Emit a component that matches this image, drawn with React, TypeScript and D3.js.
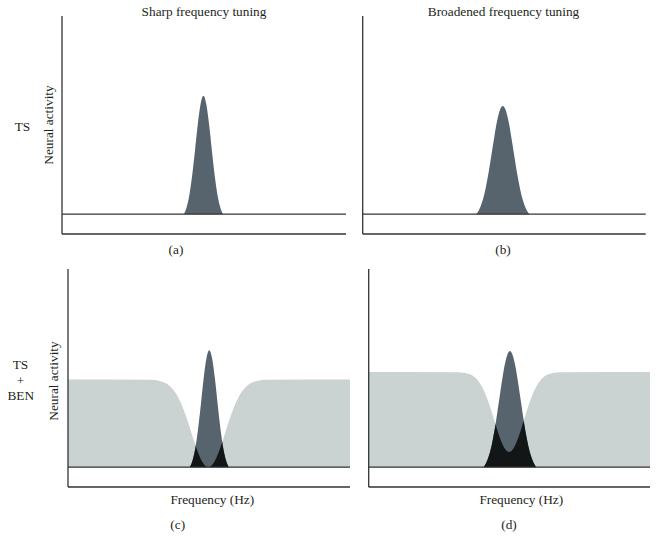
import React from "react";
import * as d3 from "d3";

// ---------- data (frequency 0-100, neural activity 0-100) ----------
const panelLetters = ["(a)", "(b)", "(c)", "(d)"];
const columnTitles = ["Sharp frequency tuning", "Broadened frequency tuning"];
const rowLabels = [["TS"], ["TS", "+", "BEN"]];
const yAxisLabel = "Neural activity";
const xAxisLabel = "Frequency (Hz)";

// (a) sharp tuning peak
const peakAFreq = [42.9, 43.8, 44.8, 45.8, 46.8, 47.8, 48.8, 49.8, 50.8, 51.8, 52.8, 53.8, 54.8, 55.8, 56.7];
const peakAAct = [0, 3.1, 9.3, 19.1, 31.8, 45.2, 55.6, 59.8, 55.6, 45.2, 31.8, 19.1, 9.3, 3.1, 0];

// (b) broadened tuning peak
const peakBFreq = [40.1, 40.5, 41.5, 42.5, 43.5, 44.5, 45.5, 46.5, 47.5, 48.5, 49.5, 50.5, 51.5, 52.5, 53.5, 54.5, 55.5, 56.5, 57.5, 58.5, 58.9];
const peakBAct = [0, 0.7, 3.4, 7.5, 13.5, 21.1, 30.0, 39.0, 47.1, 52.6, 54.6, 52.6, 47.1, 39.0, 30.0, 21.1, 13.5, 7.5, 3.4, 0.7, 0];

// (c) sharp peak + band-eliminated noise
const peakCFreq = [43.2, 44.1, 45.1, 46.1, 47.1, 48.1, 49.1, 50.1, 51.1, 52.1, 53.1, 54.1, 55.1, 56.1, 57.0];
const peakCAct = [0, 3.1, 9.2, 18.9, 31.4, 44.7, 55.0, 59.0, 55.0, 44.7, 31.4, 18.9, 9.2, 3.1, 0];
const noiseCFreq = [0, 29.75, 31.75, 33.75, 34.75, 35.75, 36.75, 37.75, 38.75, 39.75, 40.75, 41.75, 42.75, 43.75, 44.75, 45.75, 46.75, 47.75, 48.75, 49.75, 50.75, 51.75, 52.75, 53.75, 54.75, 55.75, 56.75, 57.75, 58.75, 59.75, 60.75, 61.75, 62.75, 63.75, 64.75, 65.75, 67.75, 69.75, 100];
const noiseCAct = [44.3, 44.1, 43.8, 43.0, 42.3, 41.4, 40.0, 38.3, 36.1, 33.3, 29.9, 26.1, 21.9, 17.4, 13.0, 8.8, 5.2, 2.4, 0.6, 0, 0.6, 2.4, 5.2, 8.8, 13.0, 17.4, 21.9, 26.1, 29.9, 33.3, 36.1, 38.3, 40.0, 41.4, 42.3, 43.0, 43.8, 44.1, 44.3];

// (d) broad peak + band-eliminated noise
const peakDFreq = [40.8, 41.2, 42.2, 43.2, 44.2, 45.2, 46.2, 47.2, 48.2, 49.2, 50.2, 51.2, 52.2, 53.2, 54.2, 55.2, 56.2, 57.2, 58.2, 59.2, 59.6];
const peakDAct = [0, 0.75, 3.6, 8.0, 14.5, 22.6, 32.2, 41.8, 50.5, 56.4, 58.6, 56.4, 50.5, 41.8, 32.2, 22.6, 14.5, 8.0, 3.6, 0.75, 0];
const noiseDFreq = [0, 31.9, 33.9, 34.9, 35.9, 36.9, 37.9, 38.9, 39.9, 40.9, 41.9, 42.9, 43.9, 44.9, 45.9, 46.9, 47.9, 48.9, 49.9, 50.9, 51.9, 52.9, 53.9, 54.9, 55.9, 56.9, 57.9, 58.9, 59.9, 60.9, 61.9, 62.9, 63.9, 64.9, 65.9, 67.9, 100];
const noiseDAct = [48.0, 47.9, 47.6, 47.3, 46.9, 46.2, 45.1, 43.6, 41.5, 38.8, 35.4, 31.5, 27.1, 22.5, 17.9, 13.8, 10.5, 8.4, 7.7, 8.4, 10.5, 13.8, 17.9, 22.5, 27.1, 31.5, 35.4, 38.8, 41.5, 43.6, 45.1, 46.2, 46.9, 47.3, 47.6, 47.9, 48.0];

// ---------- layout ----------
const W = 660;
const H = 553;
const panelBoxes = [
  { x0: 62, x1: 346, top: 16, bottom: 234 },
  { x0: 362.7, x1: 645.7, top: 16, bottom: 234 },
  { x0: 68, x1: 350, top: 269, bottom: 487 },
  { x0: 368.7, x1: 650, top: 269, bottom: 487 },
];

const COL_BAND = "#cad3d2";
const COL_PEAK = "#57646e";
const COL_OVERLAP = "#121617";
const COL_LINE = "#333333";
const COL_TEXT = "#231f20";
const FONT = "'Liberation Serif', 'Times New Roman', serif";

const zip = (xs: number[], ys: number[]) => xs.map((x, i) => [x, ys[i]] as [number, number]);

const panels = [
  { peak: zip(peakAFreq, peakAAct), noise: null as null | [number, number][] },
  { peak: zip(peakBFreq, peakBAct), noise: null as null | [number, number][] },
  { peak: zip(peakCFreq, peakCAct), noise: zip(noiseCFreq, noiseCAct) },
  { peak: zip(peakDFreq, peakDAct), noise: zip(noiseDFreq, noiseDAct) },
];

function Panel({ idx }: { idx: number }) {
  const box = panelBoxes[idx];
  const p = panels[idx];
  const x = d3.scaleLinear().domain([0, 100]).range([box.x0, box.x1]);
  const y = d3.scaleLinear().domain([-10, 100]).range([box.bottom, box.top]);
  const area = d3
    .area<[number, number]>()
    .x((d) => x(d[0]))
    .y0(y(0))
    .y1((d) => y(d[1]))
    .curve(d3.curveMonotoneX);
  const peakPath = area(p.peak) || "";
  const noisePath = p.noise ? area(p.noise) || "" : "";
  const clipId = `noise-clip-${idx}`;
  return (
    <g>
      {p.noise && (
        <defs>
          <clipPath id={clipId}>
            <path d={noisePath} />
          </clipPath>
        </defs>
      )}
      {p.noise && <path d={noisePath} fill={COL_BAND} />}
      <path d={peakPath} fill={COL_PEAK} />
      {p.noise && <path d={peakPath} fill={COL_OVERLAP} clipPath={`url(#${clipId})`} />}
      {/* baseline */}
      <line x1={x(0)} x2={x(100)} y1={y(0)} y2={y(0)} stroke={COL_LINE} strokeWidth={1.3} />
      {/* axes */}
      <line x1={x(0)} x2={x(100)} y1={y(-10)} y2={y(-10)} stroke={COL_LINE} strokeWidth={1.3} />
      <line x1={x(0)} x2={x(0)} y1={y(100)} y2={y(-10)} stroke={COL_LINE} strokeWidth={1.3} />
    </g>
  );
}

export default function App() {
  const txt = { fontFamily: FONT, fontSize: 13.3, fill: COL_TEXT } as const;
  return (
    <svg
      width={W}
      height={H}
      viewBox={`0 0 ${W} ${H}`}
      style={{ position: "absolute", left: 0, top: 0, background: "#fff" }}
    >
      <rect width={W} height={H} fill="#fff" />
      {[0, 1, 2, 3].map((i) => (
        <Panel key={i} idx={i} />
      ))}
      {/* column titles */}
      <text x={204} y={15.5} textAnchor="middle" {...txt}>{columnTitles[0]}</text>
      <text x={503.5} y={15.5} textAnchor="middle" {...txt}>{columnTitles[1]}</text>
      {/* y-axis labels */}
      <text transform="translate(52.5,125) rotate(-90)" textAnchor="middle" {...txt}>{yAxisLabel}</text>
      <text transform="translate(57.5,381) rotate(-90)" textAnchor="middle" {...txt}>{yAxisLabel}</text>
      {/* row labels */}
      <text x={22.5} y={131} textAnchor="middle" {...txt}>{rowLabels[0][0]}</text>
      <text x={20.5} y={369} textAnchor="middle" {...txt}>{rowLabels[1][0]}</text>
      <text x={20.5} y={385} textAnchor="middle" {...txt}>{rowLabels[1][1]}</text>
      <text x={20.8} y={400} textAnchor="middle" {...txt}>{rowLabels[1][2]}</text>
      {/* x-axis labels */}
      <text x={212.3} y={504} textAnchor="middle" {...txt}>{xAxisLabel}</text>
      <text x={521.3} y={504} textAnchor="middle" {...txt}>{xAxisLabel}</text>
      {/* panel letters */}
      <text x={176} y={254} textAnchor="middle" {...txt}>{panelLetters[0]}</text>
      <text x={503} y={254} textAnchor="middle" {...txt}>{panelLetters[1]}</text>
      <text x={177.7} y={529.3} textAnchor="middle" {...txt}>{panelLetters[2]}</text>
      <text x={509} y={529.3} textAnchor="middle" {...txt}>{panelLetters[3]}</text>
    </svg>
  );
}
